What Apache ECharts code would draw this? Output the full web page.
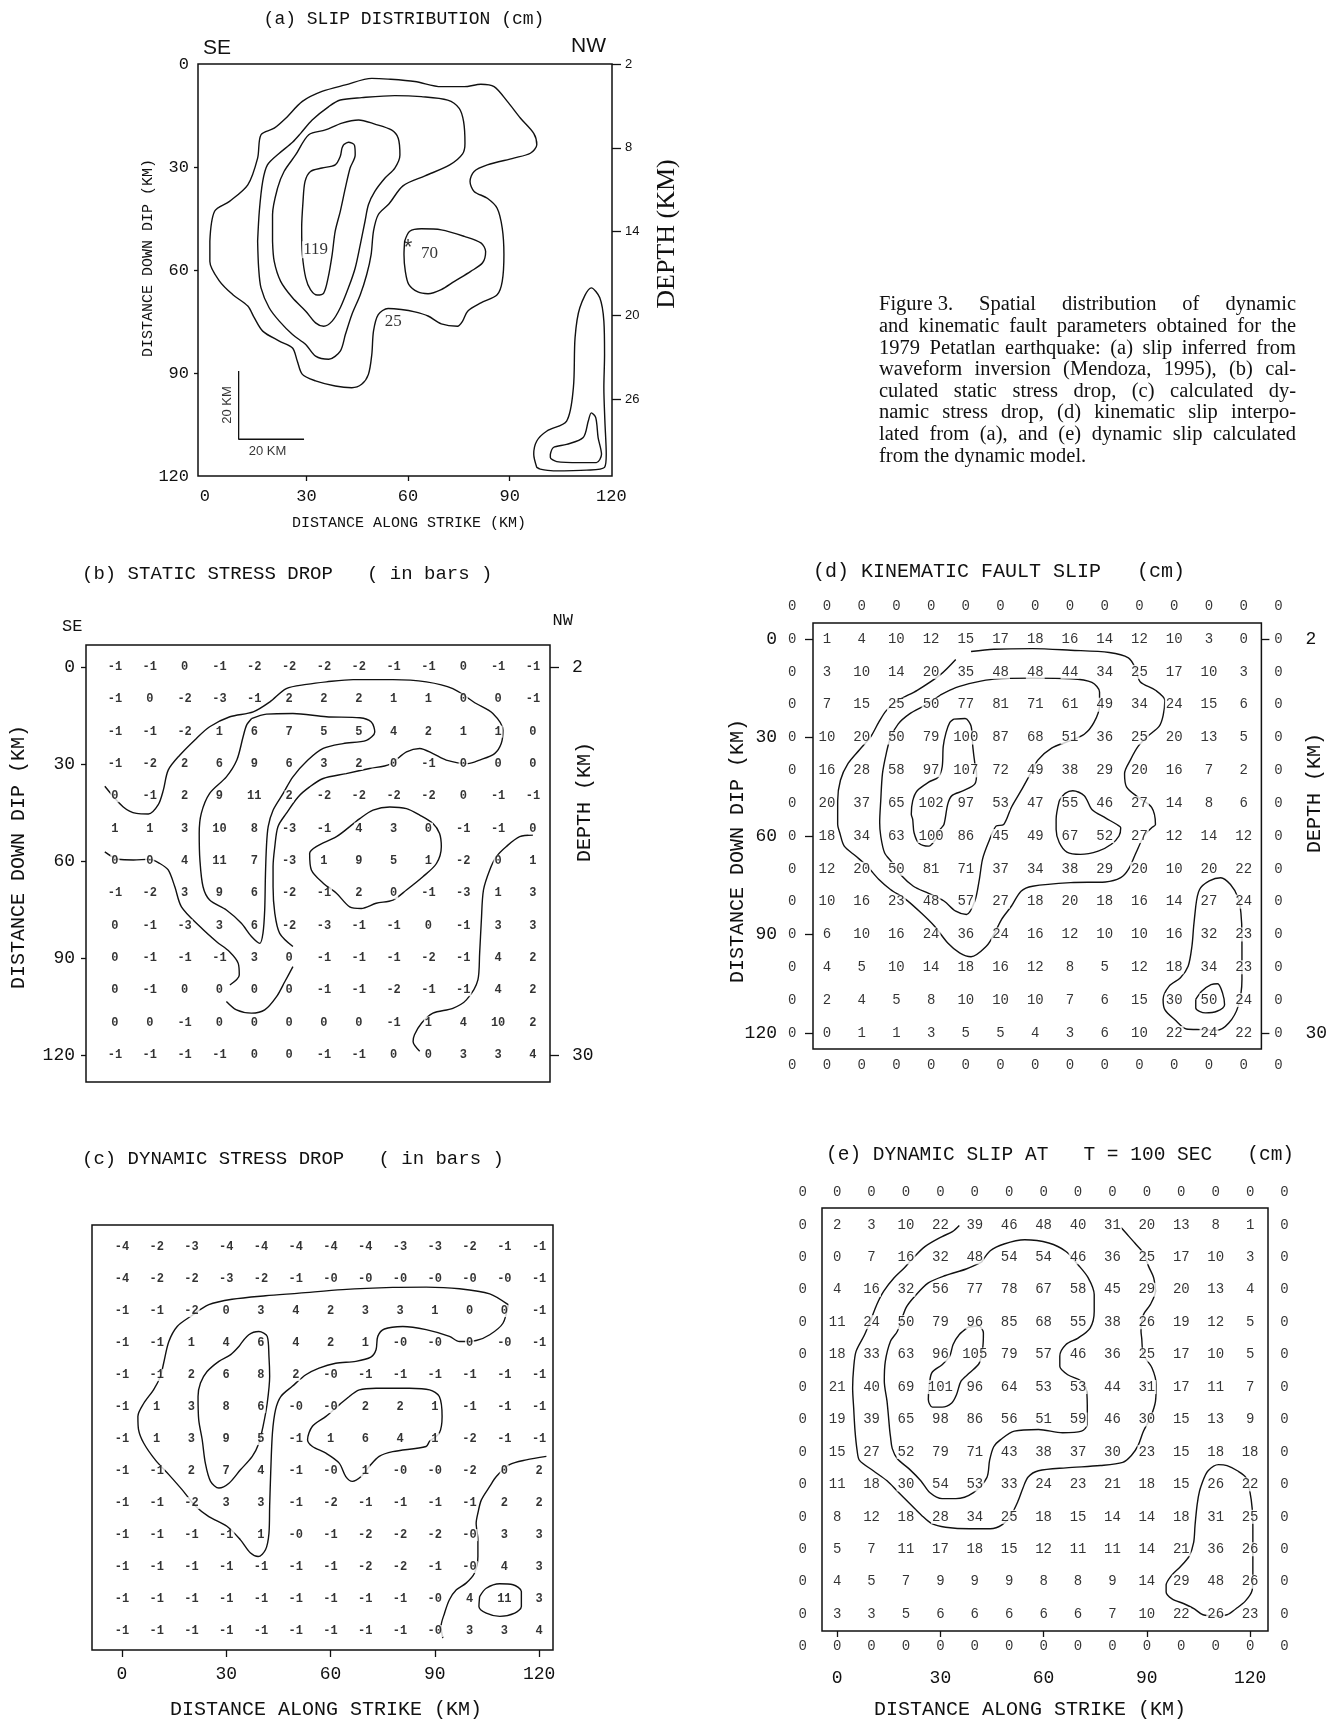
<!DOCTYPE html>
<html><head><meta charset="utf-8">
<script src="https://cdn.jsdelivr.net/npm/echarts@6/dist/echarts.min.js"></script>
<style>html,body{margin:0;padding:0;background:#fff}#c{width:1330px;height:1722px}</style>
</head><body><div id="c"></div>
<script>
// ---------- grid positions (km) ----------
const gridKm = [0,10,20,30,40,50,60,70,80,90,100,110,120];
const borderKm = [-10,0,10,20,30,40,50,60,70,80,90,100,110,120,130];
const strikeTicks = [0,30,60,90,120];
const dipTicks = [0,30,60,90,120];
const depthTicksA = [2,8,14,20,26];
const depthTickDipA = [0,24.4,48.8,73.2,97.6];
const depthTicksBD = ['2','30'];
const depthTickDipBD = [0,120];

// ---------- (b) static stress drop (bars) ----------
const staticStressDrop = [
[-1,-1,0,-1,-2,-2,-2,-2,-1,-1,0,-1,-1],
[-1,0,-2,-3,-1,2,2,2,1,1,0,0,-1],
[-1,-1,-2,1,6,7,5,5,4,2,1,1,0],
[-1,-2,2,6,9,6,3,2,0,-1,0,0,0],
[0,-1,2,9,11,2,-2,-2,-2,-2,0,-1,-1],
[1,1,3,10,8,-3,-1,4,3,0,-1,-1,0],
[0,0,4,11,7,-3,1,9,5,1,-2,0,1],
[-1,-2,3,9,6,-2,-1,2,0,-1,-3,1,3],
[0,-1,-3,3,6,-2,-3,-1,-1,0,-1,3,3],
[0,-1,-1,-1,3,0,-1,-1,-1,-2,-1,4,2],
[0,-1,0,0,0,0,-1,-1,-2,-1,-1,4,2],
[0,0,-1,0,0,0,0,0,-1,1,4,10,2],
[-1,-1,-1,-1,0,0,-1,-1,0,0,3,3,4]];

// ---------- (c) dynamic stress drop (bars) ----------
const dynamicStressDrop = [
["-4","-2","-3","-4","-4","-4","-4","-4","-3","-3","-2","-1","-1"],
["-4","-2","-2","-3","-2","-1","-0","-0","-0","-0","-0","-0","-1"],
["-1","-1","-2","0","3","4","2","3","3","1","0","0","-1"],
["-1","-1","1","4","6","4","2","1","-0","-0","0","-0","-1"],
["-1","-1","2","6","8","2","-0","-1","-1","-1","-1","-1","-1"],
["-1","1","3","8","6","-0","-0","2","2","1","-1","-1","-1"],
["-1","1","3","9","5","-1","1","6","4","1","-2","-1","-1"],
["-1","-1","2","7","4","-1","-0","1","-0","-0","-2","0","2"],
["-1","-1","-2","3","3","-1","-2","-1","-1","-1","-1","2","2"],
["-1","-1","-1","-1","1","-0","-1","-2","-2","-2","-0","3","3"],
["-1","-1","-1","-1","-1","-1","-1","-2","-2","-1","-0","4","3"],
["-1","-1","-1","-1","-1","-1","-1","-1","-1","-0","4","11","3"],
["-1","-1","-1","-1","-1","-1","-1","-1","-1","-0","3","3","4"]];

// ---------- (d) kinematic fault slip (cm), with zero border ----------
const kinematicSlip = [
[0,0,0,0,0,0,0,0,0,0,0,0,0,0,0],
[0,1,4,10,12,15,17,18,16,14,12,10,3,0,0],
[0,3,10,14,20,35,48,48,44,34,25,17,10,3,0],
[0,7,15,25,50,77,81,71,61,49,34,24,15,6,0],
[0,10,20,50,79,100,87,68,51,36,25,20,13,5,0],
[0,16,28,58,97,107,72,49,38,29,20,16,7,2,0],
[0,20,37,65,102,97,53,47,55,46,27,14,8,6,0],
[0,18,34,63,100,86,45,49,67,52,27,12,14,12,0],
[0,12,20,50,81,71,37,34,38,29,20,10,20,22,0],
[0,10,16,23,48,57,27,18,20,18,16,14,27,24,0],
[0,6,10,16,24,36,24,16,12,10,10,16,32,23,0],
[0,4,5,10,14,18,16,12,8,5,12,18,34,23,0],
[0,2,4,5,8,10,10,10,7,6,15,30,50,24,0],
[0,0,1,1,3,5,5,4,3,6,10,22,24,22,0],
[0,0,0,0,0,0,0,0,0,0,0,0,0,0,0]];

// ---------- (e) dynamic slip at T = 100 s (cm), with zero border ----------
const dynamicSlip = [
[0,0,0,0,0,0,0,0,0,0,0,0,0,0,0],
[0,2,3,10,22,39,46,48,40,31,20,13,8,1,0],
[0,0,7,16,32,48,54,54,46,36,25,17,10,3,0],
[0,4,16,32,56,77,78,67,58,45,29,20,13,4,0],
[0,11,24,50,79,96,85,68,55,38,26,19,12,5,0],
[0,18,33,63,96,105,79,57,46,36,25,17,10,5,0],
[0,21,40,69,101,96,64,53,53,44,31,17,11,7,0],
[0,19,39,65,98,86,56,51,59,46,30,15,13,9,0],
[0,15,27,52,79,71,43,38,37,30,23,15,18,18,0],
[0,11,18,30,54,53,33,24,23,21,18,15,26,22,0],
[0,8,12,18,28,34,25,18,15,14,14,18,31,25,0],
[0,5,7,11,17,18,15,12,11,11,14,21,36,26,0],
[0,4,5,7,9,9,9,8,8,9,14,29,48,26,0],
[0,3,3,5,6,6,6,6,6,7,10,22,26,23,0],
[0,0,0,0,0,0,0,0,0,0,0,0,0,0,0]];

// ---------- (a) slip contours, digitized [strike km, dip km] ----------
const slipContour25 = [[1.5,51.6],[2.9,42.9],[7.3,40.0],[12.7,35.2],[15.6,27.4],[16.6,20.6],[20.5,18.7],[23.9,15.8],[28.8,10.9],[34.6,8.0],[41.5,6.1],[49.3,4.2],[54.1,4.4],[62.0,5.1],[69.8,6.6],[76.6,6.6],[81.5,5.9],[85.4,6.6],[89.3,10.9],[93.2,15.8],[97.1,20.2],[98.0,23.5],[96.1,26.0],[91.2,27.4],[83.4,29.4],[79.5,31.3],[78.3,34.2],[79.5,37.1],[83.4,39.1],[86.3,42.0],[87.8,47.8],[88.3,55.5],[87.8,63.3],[86.3,67.2],[81.5,69.6],[77.6,72.0],[76.1,74.9],[74.6,76.4],[69.8,75.7],[65.9,73.4],[62.0,72.2],[58.0,71.5],[54.1,71.2],[51.2,73.0],[49.8,77.8],[49.3,84.6],[48.3,90.4],[46.3,93.3],[43.4,94.3],[38.5,93.8],[32.7,92.3],[28.8,90.4],[27.3,86.5],[25.9,82.7],[22.0,80.7],[17.1,77.8],[14.6,73.9],[12.7,70.5],[8.3,67.2],[4.4,63.3],[1.5,57.5]];
const slipContour2 = [[15.6,51.6],[16.1,42.9],[17.1,34.2],[18.5,29.4],[22.0,26.0],[25.9,22.8],[28.3,20.2],[31.7,16.3],[36.6,12.4],[40.0,10.5],[46.3,9.8],[56.1,9.2],[63.9,9.5],[71.7,10.5],[75.1,12.9],[76.4,16.8],[76.8,23.1],[76.1,26.2],[72.3,29.4],[65.0,32.6],[58.5,35.5],[54.4,40.7],[51.2,43.9],[49.8,48.7],[49.1,55.5],[47.8,61.3],[45.9,67.2],[43.4,73.0],[41.5,78.8],[40.0,83.6],[36.6,86.0],[32.7,85.1],[29.8,81.7],[25.9,78.8],[22.0,74.9],[19.0,71.0],[16.6,65.2],[15.9,59.4]];
const slipContour3 = [[20.0,51.6],[20.0,43.9],[21.5,36.1],[23.4,31.3],[26.8,26.5],[30.7,20.6],[35.6,19.2],[40.5,17.2],[45.4,16.3],[50.2,17.5],[55.1,19.2],[57.1,21.6],[57.6,26.5],[56.1,30.3],[53.2,33.2],[50.2,37.1],[48.3,41.0],[47.3,45.8],[45.9,52.6],[44.4,59.4],[42.4,65.2],[40.0,71.0],[37.6,74.9],[35.1,76.4],[32.7,75.4],[29.8,72.0],[25.9,68.1],[22.4,63.3],[20.5,57.5]];
const slipContour119 = [[41.0,23.5],[42.4,22.8],[44.2,23.7],[44.4,26.5],[42.9,30.3],[41.5,36.1],[40.0,42.9],[38.5,48.7],[37.6,55.5],[36.4,62.3],[35.1,66.7],[33.2,67.3],[31.2,65.7],[29.8,62.3],[28.8,55.5],[28.6,47.8],[29.0,40.0],[29.6,34.2],[31.2,31.3],[34.6,30.3],[38.5,29.4],[40.0,26.9],[40.5,24.5]];
const slipContour70 = [[59.0,51.6],[60.5,48.7],[63.9,48.0],[69.8,48.3],[76.6,50.2],[81.5,52.1],[82.9,54.6],[82.0,57.9],[78.5,60.4],[73.7,63.3],[69.8,65.7],[65.9,66.9],[62.9,66.4],[60.2,64.2],[59.2,60.4],[58.8,55.5]];
const slipContourNW1 = [[98.0,117.5],[97.1,113.7],[98.0,109.8],[101.0,106.9],[106.8,104.0],[108.8,94.3],[109.3,79.7],[110.7,71.0],[114.1,65.2],[116.6,68.1],[117.8,74.9],[118.0,84.6],[117.8,94.3],[118.1,104.0],[118.5,113.7],[118.0,117.5],[112.7,118.3],[102.9,118.5],[99.0,118.0]];
const slipContourNW2 = [[102.0,113.7],[102.9,111.7],[106.8,110.8],[111.7,108.8],[113.2,104.0],[114.1,101.6],[115.4,103.0],[116.1,108.8],[117.1,113.7],[115.6,116.1],[110.7,116.1],[103.9,115.8],[102.0,114.6]];
const slipLabels = [{name:'119',value:[32.7,54.1]},{name:'70',value:[66.3,55.3]},{name:'25',value:[55.6,75.1]}];
const hypocenter = [{name:'*',value:[60.0,53.6]}];
const scaleBar = [[10,89.4],[10,109.3],[29.3,109.3]];
const scaleBarLabels = [{name:'20 KM',value:[6.8,99.3],rot:90},{name:'20 KM',value:[18.5,112.9],rot:0}];

// ---------- (b) contours ----------
const staticContour1 = [[-2.9,36.9],[2.4,43.3],[6.2,45.3],[9.6,45.5],[12.4,42.7],[13.9,38.1],[15.3,31.9],[18.6,27.3],[23.4,22.1],[27.2,18.5],[33.0,15.4],[39.7,13.9],[44.5,10.8],[49.2,6.7],[55.0,5.4],[60.7,4.6],[68.4,3.9],[79.8,3.9],[89.4,4.6],[97.0,6.7],[103.7,11.3],[108.5,14.4],[111.4,19.6],[110.9,23.7],[109.0,26.8],[104.7,28.8],[101.3,29.9],[95.1,28.8],[91.3,26.8],[87.5,25.2],[83.7,26.3],[78.9,30.1],[73.1,31.4],[66.4,33.0],[59.8,34.5],[55.9,37.1],[52.6,40.2],[49.2,45.3],[46.8,49.4],[45.9,55.6],[45.4,61.8],[45.4,68.0],[45.9,76.2],[47.3,82.4],[51.1,86.5]];
const staticContour2 = [[39.2,16.0],[43.5,14.6],[51.1,14.4],[60.7,15.4],[70.3,15.7],[73.6,17.0],[74.6,20.1],[72.2,22.7],[65.5,23.7],[59.8,25.2],[55.4,28.8],[51.1,34.0],[48.3,39.1],[45.4,44.3],[44.0,49.4],[43.5,55.6],[43.2,64.9],[43.0,75.2],[42.5,82.4],[41.6,85.5],[39.2,83.4],[36.3,79.3],[32.0,75.2],[27.2,72.1],[25.3,68.0],[24.4,59.7],[24.2,51.5],[24.8,45.3],[27.2,39.1],[32.0,34.0],[35.0,28.8],[36.8,21.6],[37.8,18.0]];
const staticContour3 = [[67.4,49.4],[63.6,52.5],[57.8,55.6],[55.9,57.7],[56.4,62.8],[59.8,66.9],[63.6,70.0],[67.4,74.2],[70.7,74.7],[75.0,73.1],[79.8,72.1],[83.7,69.0],[88.4,64.9],[92.3,60.8],[93.7,55.6],[93.2,51.5],[91.3,48.4],[87.5,45.8],[83.7,43.8],[78.9,43.3],[74.1,44.3],[70.3,46.9]];
const staticContour4 = [[-2.9,57.2],[1.0,59.5],[5.3,59.7],[10.0,59.5],[12.9,60.8],[15.3,62.8],[17.2,68.0],[19.1,74.2],[24.4,80.3],[29.2,85.0],[32.9,88.1],[35.4,91.7],[35.7,95.3],[33.0,98.4]];
const staticContour5 = [[32.0,103.5],[34.9,106.1],[39.2,107.1],[43.0,106.1],[46.4,102.0],[48.8,97.3],[51.1,92.7]];
const staticContour6 = [[120.0,52.0],[116.2,52.5],[112.3,55.6],[109.5,58.7],[107.6,62.8],[105.8,69.0],[105.2,78.3],[104.7,88.6],[104.2,96.8],[100.9,103.0],[97.0,105.6],[91.3,107.1],[88.0,110.2],[86.0,113.8],[85.6,115.9],[87.5,118.9]];

// ---------- (c) contours ----------
const dynStressContour1 = [[111.1,18.0],[109.6,23.8],[105.8,27.4],[101.9,29.2],[97.1,29.5],[94.2,27.9],[87.5,25.8],[80.8,24.8],[75.5,25.6],[73.6,27.9],[73.1,32.1],[71.6,34.4],[67.3,35.7],[61.5,36.3],[56.7,37.8],[52.9,39.9],[49.0,43.5],[45.7,46.7],[44.2,50.8],[43.3,58.1],[42.8,70.6],[42.5,81.0],[42.3,89.4],[41.3,94.6],[39.2,96.7],[37.0,95.6],[34.1,91.5],[30.3,87.3],[25.0,84.2],[21.2,81.0],[17.3,75.8],[13.5,71.1],[9.6,66.5],[6.3,61.3],[4.8,57.1],[4.6,52.9],[6.3,48.8],[9.1,44.6],[11.1,40.4],[12.0,36.3],[13.5,29.5],[15.9,24.8],[19.7,21.7],[25.0,18.0],[31.7,16.3],[41.3,15.2],[51.0,14.4],[63.5,13.3],[77.9,12.6],[87.5,12.5],[97.1,13.0],[105.8,14.6]];
const dynStressContour2 = [[33.7,31.0],[36.5,27.4],[39.4,26.4],[41.8,27.9],[42.3,34.2],[42.5,40.4],[41.8,48.8],[40.6,56.0],[39.4,61.3],[37.5,65.4],[34.1,69.6],[30.8,73.8],[27.9,75.3],[25.5,73.2],[24.0,67.5],[23.1,60.2],[22.1,54.0],[21.9,46.7],[22.6,42.5],[24.5,38.9],[27.9,35.7],[31.3,33.6]];
const dynStressContour3 = [[65.4,46.7],[68.3,44.6],[73.1,44.1],[82.7,44.1],[88.5,44.6],[91.3,46.7],[92.1,52.9],[91.3,58.1],[88.5,60.7],[87.5,62.3],[77.9,63.9],[74.0,65.4],[71.2,68.5],[68.8,71.7],[66.3,73.2],[64.4,71.7],[62.5,67.5],[58.7,64.4],[54.8,62.3],[53.4,60.2],[54.8,56.0],[58.7,52.9],[62.5,49.3]];
const dynStressContour4 = [[122.1,65.4],[116.3,66.5],[111.5,68.0],[107.7,71.7],[105.8,74.8],[103.4,79.0],[102.4,83.1],[101.9,86.3],[102.4,91.5],[102.4,96.7],[101.4,101.9],[99.0,105.0],[96.2,107.1],[94.2,110.2],[92.8,114.4],[91.8,118.5],[92.3,122.2]];
const dynStressContour5 = [[102.9,109.2],[104.8,106.6],[108.7,105.2],[112.5,105.5],[114.9,107.6],[114.9,112.3],[113.0,114.4],[108.7,115.4],[104.8,114.4],[102.7,112.3]];

// ---------- (d) contours ----------
const kinContour1 = [[41.5,3.8],[48.1,3.1],[59.2,2.9],[70.2,3.4],[81.3,4.1],[86.8,5.7],[88.8,8.8],[90.2,13.0],[94.6,15.6],[97.3,18.7],[96.8,23.3],[95.7,26.5],[92.4,29.6],[89.6,32.7],[87.4,36.8],[85.7,41.0],[86.3,45.1],[89.6,48.2],[93.5,51.3],[94.6,56.5],[93.5,57.5],[91.3,60.0],[89.0,65.1],[86.8,70.2],[84.6,72.7],[80.2,74.0],[70.2,74.2],[59.2,75.3],[55.9,76.8],[53.1,81.4],[50.3,85.4],[48.1,90.0],[45.9,93.6],[41.5,96.8],[38.2,95.6],[34.8,92.6],[31.0,87.5],[27.1,83.4],[22.7,79.3],[18.3,76.3],[14.9,73.2],[11.6,69.2],[8.3,66.1],[5.0,63.1],[3.7,59.0],[3.1,56.5],[3.1,49.3],[3.9,43.0],[6.1,37.9],[9.4,33.7],[12.7,29.6],[14.9,25.4],[17.1,21.8],[20.5,18.7],[26.0,15.6],[32.6,10.9],[37.1,6.2]];
const kinContour2 = [[32.6,17.1],[37.1,14.8],[42.6,13.2],[48.1,12.2],[59.2,11.9],[70.2,12.1],[76.3,13.2],[78.5,16.1],[78.5,20.2],[76.9,25.4],[74.1,29.0],[69.7,31.1],[64.7,33.2],[60.8,36.8],[58.6,41.0],[55.9,46.2],[53.1,51.3],[50.9,56.5],[48.7,57.0],[46.5,62.0],[44.8,67.1],[43.9,73.2],[42.6,79.8],[40.2,83.9],[37.1,82.9],[33.7,79.8],[29.3,77.5],[24.9,75.3],[21.6,72.2],[18.8,68.1],[16.6,65.1],[15.5,60.0],[15.2,55.9],[15.5,49.3],[16.0,41.0],[17.1,34.8],[18.3,30.1],[20.5,25.9],[23.8,22.8],[28.2,20.2]];
const kinContour3 = [[36.5,24.4],[39.8,24.2],[41.5,26.5],[42.0,32.7],[42.6,37.9],[43.1,41.0],[42.6,44.1],[39.3,46.2],[36.0,47.7],[34.8,50.3],[33.7,56.5],[32.6,58.0],[31.3,61.0],[29.3,63.1],[26.5,62.2],[25.1,59.0],[24.7,54.9],[24.3,53.4],[24.7,49.3],[26.0,46.2],[29.3,43.6],[32.1,42.0],[33.2,38.9],[33.5,32.7],[34.3,28.5],[35.4,25.4]];
const kinContour4 = [[66.9,49.3],[68.6,47.0],[70.8,46.2],[74.1,47.7],[76.3,51.9],[80.2,54.5],[83.5,56.5],[84.6,57.5],[84.1,60.0],[81.9,62.5],[78.1,64.6],[73.0,65.6],[69.1,64.9],[66.9,62.0],[66.0,58.0],[66.0,54.9]];
const kinContour5 = [[106.2,81.4],[107.3,76.3],[110.1,73.7],[113.4,72.7],[116.2,74.8],[118.4,78.8],[119.2,83.4],[119.5,90.5],[119.5,97.6],[119.5,103.7],[118.4,111.9],[115.7,117.0],[112.3,119.2],[107.9,119.0],[103.5,118.8],[100.2,116.0],[97.3,112.9],[96.8,109.8],[98.5,105.8],[101.8,103.2],[104.0,99.7],[105.1,93.6],[105.6,87.5]];
const kinContour6 = [[106.2,109.8],[107.9,107.3],[110.6,105.3],[112.5,105.0],[113.9,107.8],[114.5,111.4],[112.3,113.4],[109.0,113.9],[106.2,112.4]];

// ---------- (e) contours ----------
const dynSlipContour1 = [[35.5,0.2],[33.5,2.1],[30.5,3.6],[25.5,6.7],[22.0,10.3],[19.5,13.3],[16.5,16.4],[13.5,20.5],[11.5,24.6],[10.0,28.7],[8.0,33.8],[5.5,39.0],[4.8,44.1],[4.5,50.3],[4.8,56.4],[5.2,63.6],[5.8,69.5],[6.5,72.6],[10.5,75.8],[14.5,78.9],[17.5,82.1],[21.0,85.8],[24.5,89.5],[27.5,92.1],[31.5,93.2],[38.5,93.7],[44.5,93.7],[48.0,92.4],[50.5,89.5],[52.5,85.3],[54.0,81.1],[55.5,77.7],[58.5,75.8],[66.5,74.9],[76.5,74.2],[83.0,73.2],[85.5,71.1],[87.5,67.9],[89.0,63.6],[91.0,59.5],[92.5,54.4],[92.7,49.2],[91.5,44.1],[89.0,40.0],[88.5,34.9],[88.3,32.8],[89.0,27.7],[91.0,24.6],[92.5,20.5],[92.0,16.4],[90.5,12.8],[89.0,8.7],[86.5,5.6],[84.0,2.6],[82.5,0.8]];
const dynSlipContour2 = [[42.0,11.5],[44.5,8.0],[48.5,5.9],[54.5,4.6],[61.5,5.6],[66.5,8.2],[70.0,12.3],[73.0,16.4],[74.7,21.5],[74.7,26.7],[73.5,31.8],[70.0,34.9],[66.5,36.9],[64.7,40.5],[64.7,43.6],[67.0,46.2],[71.0,48.2],[72.5,51.3],[72.7,57.4],[72.7,61.5],[71.0,63.6],[65.5,64.1],[58.5,63.1],[51.5,63.6],[47.5,66.2],[45.5,68.4],[44.3,72.6],[43.5,77.9],[39.5,82.6],[34.5,84.4],[30.5,84.4],[27.0,82.6],[24.3,78.9],[21.0,75.3],[17.5,72.1],[16.0,68.9],[15.5,65.3],[15.3,63.6],[14.5,54.4],[13.7,48.2],[14.0,42.1],[15.5,35.9],[17.5,32.8],[20.0,25.6],[22.5,22.1],[26.5,17.9],[31.5,15.6],[37.5,13.6]];
const dynSlipContour3 = [[38.0,31.6],[41.0,31.1],[42.5,33.3],[42.3,37.9],[41.3,42.6],[38.5,45.6],[36.0,48.2],[34.7,52.3],[33.3,54.9],[30.5,56.2],[27.7,56.2],[26.5,53.8],[26.7,50.3],[27.5,45.6],[30.5,43.1],[32.7,40.5],[33.7,36.9],[35.5,33.8]];
const dynSlipContour4 = [[106.3,78.9],[107.8,75.8],[110.8,73.9],[113.3,74.2],[116.3,75.8],[118.8,77.9],[120.0,82.6],[120.6,87.4],[120.8,92.6],[120.8,97.9],[120.8,103.2],[120.8,108.4],[120.6,112.6],[118.6,116.0],[115.8,118.4],[113.3,120.2],[109.8,120.5],[106.3,120.2],[103.8,118.4],[100.8,116.8],[97.3,115.3],[95.6,113.2],[95.6,111.1],[97.3,107.9],[99.8,105.3],[102.3,102.1],[103.6,97.9],[104.0,92.6],[104.6,86.3],[105.3,82.1]];

// ---------- caption ----------
const captionLines = [
 ['Figure\u00a03.','Spatial','distribution','of','dynamic'],
 ['and','kinematic','fault','parameters','obtained','for','the'],
 ['1979','Petatlan','earthquake:','(a)','slip','inferred','from'],
 ['waveform','inversion','(Mendoza,','1995),','(b)','cal-'],
 ['culated','static','stress','drop,','(c)','calculated','dy-'],
 ['namic','stress','drop,','(d)','kinematic','slip','interpo-'],
 ['lated','from','(a),','and','(e)','dynamic','slip','calculated'],
 ['from','the','dynamic','model.']];

// =================================================================
const MONO = "'Liberation Mono', 'DejaVu Sans Mono', monospace";
const SANS = "'Liberation Sans', Arial, sans-serif";
const SERIF = "'Liberation Serif', 'Times New Roman', serif";
const INK = '#111';

function close(p){ return p.concat([p[0]]); }
function gridLabels(m, xs, ys){
  const out=[]; m.forEach((row,i)=>row.forEach((v,j)=>out.push({name:String(v), value:[xs[j], ys[i]]}))); return out;
}
function contour(pts, xi, yi, closed){
  return {type:'line', xAxisIndex:xi, yAxisIndex:yi, data: closed?close(pts):pts, symbol:'none', showSymbol:false,
    smooth:0.3, lineStyle:{color:INK, width:1.4}, silent:true, z:2, animation:false};
}
function labelSeries(data, xi, yi, size, fam, weight, extraLabel){
  return {type:'scatter', xAxisIndex:xi, yAxisIndex:yi, data, symbolSize:1,
    itemStyle:{color:'rgba(0,0,0,0)'}, clip:false, silent:true, z:5, animation:false,
    label:Object.assign({show:true, position:'inside', formatter:p=>p.name, fontFamily:fam, fontSize:size,
      fontWeight:weight||'normal', color:'#000', backgroundColor:'#fff', padding:[0,1]}, extraLabel||{})};
}
function hiddenAxis(gi, min, max, inverse){
  return {type:'value', gridIndex:gi, min, max, inverse:!!inverse, axisLine:{show:false, onZero:false}, axisTick:{show:false},
    axisLabel:{show:false}, splitLine:{show:false}};
}
function tickAxis(gi, min, max, inverse, pos, ticks, labels, fmt, tickLen, margin, size, fam){
  return {type:'value', gridIndex:gi, min, max, inverse:!!inverse, position:pos,
    axisLine:{show:false, onZero:false}, splitLine:{show:false},
    axisTick:{show:true, customValues:ticks, length:tickLen, lineStyle:{color:INK, width:1.3}},
    axisLabel:{show:true, customValues:labels, formatter:fmt, margin, fontSize:size, fontFamily:fam, color:INK}};
}
const boxStyle = {show:true, borderColor:INK, borderWidth:1.5, backgroundColor:'rgba(0,0,0,0)'};

const grids = [
  Object.assign({left:198, top:64, width:414, height:412}, boxStyle),   // a
  Object.assign({left:86, top:645, width:464, height:437}, boxStyle),   // b
  Object.assign({left:92, top:1225, width:461, height:425}, boxStyle),  // c
  Object.assign({left:813, top:623, width:452, height:426}, boxStyle),  // d
  Object.assign({left:822, top:1208, width:446, height:423}, boxStyle)  // e
];

const depthFmtA = v => { let bi=0; depthTickDipA.forEach((d,i)=>{ if(Math.abs(d-v)<Math.abs(depthTickDipA[bi]-v)) bi=i; }); return String(depthTicksA[bi]); };
const depthFmtBD = v => depthTicksBD[Math.abs(v-depthTickDipBD[0]) < Math.abs(v-depthTickDipBD[1]) ? 0 : 1];

const xAxes = [
  tickAxis(0, -2, 120.2, false, 'bottom', [30,60,90], strikeTicks, null, 5, 12, 17, MONO),
  hiddenAxis(1, -8.3, 124.9),
  tickAxis(2, -8.6, 124.0, false, 'bottom', strikeTicks, strikeTicks, null, 7, 15, 18, MONO),
  hiddenAxis(3, -4.0, 125.1),
  tickAxis(4, -4.4, 125.2, false, 'bottom', strikeTicks, strikeTicks, null, 6, 38, 18, MONO)
];
const yAxes = [
  tickAxis(0, 0, 120, true, 'left', [30,60,90], dipTicks, null, 4, 9, 17, MONO),
  tickAxis(0, 0, 120, true, 'right', depthTickDipA, depthTickDipA, depthFmtA, 9, 13, 13, SANS),
  tickAxis(1, -6.8, 128.4, true, 'left', dipTicks, dipTicks, null, 5, 11, 18, MONO),
  tickAxis(1, -6.8, 128.4, true, 'right', depthTickDipBD, depthTickDipBD, depthFmtBD, 9, 22, 18, MONO),
  hiddenAxis(2, -6.9, 125.9, true),
  tickAxis(3, -4.9, 124.9, true, 'left', dipTicks, dipTicks, null, 8, 36, 18, MONO),
  tickAxis(3, -4.9, 124.9, true, 'right', depthTickDipBD, depthTickDipBD, depthFmtBD, 8, 44, 18, MONO),
  hiddenAxis(4, -5.2, 125.2, true)
];

const series = [];
// (a)
[[slipContour25,true],[slipContour2,true],[slipContour3,true],[slipContour119,true],[slipContour70,true],[slipContourNW1,true],[slipContourNW2,true]]
  .forEach(([c,cl])=>series.push(contour(c,0,0,cl)));
series.push({type:'line', xAxisIndex:0, yAxisIndex:0, data:scaleBar, symbol:'none', lineStyle:{color:INK,width:1.3}, silent:true, z:2, animation:false});
series.push(labelSeries(slipLabels,0,0,17,SERIF));
series.push(labelSeries(hypocenter,0,0,22,SANS,'normal',{backgroundColor:'transparent'}));
scaleBarLabels.forEach(l=>series.push(labelSeries([l],0,0,13,SANS,'normal',{rotate:l.rot, backgroundColor:'transparent'})));
// (b)
[[staticContour1,false],[staticContour2,true],[staticContour3,true],[staticContour4,false],[staticContour5,false],[staticContour6,false]]
  .forEach(([c,cl])=>series.push(contour(c,1,2,cl)));
series.push(labelSeries(gridLabels(staticStressDrop,gridKm,gridKm),1,2,12,MONO,'bold'));
// (c)
[[dynStressContour1,true],[dynStressContour2,true],[dynStressContour3,true],[dynStressContour4,false],[dynStressContour5,true]]
  .forEach(([c,cl])=>series.push(contour(c,2,4,cl)));
series.push(labelSeries(gridLabels(dynamicStressDrop,gridKm,gridKm),2,4,12,MONO,'bold'));
// (d)
[[kinContour1,false],[kinContour2,true],[kinContour3,true],[kinContour4,true],[kinContour5,true],[kinContour6,true]]
  .forEach(([c,cl])=>series.push(contour(c,3,5,cl)));
series.push(labelSeries(gridLabels(kinematicSlip,borderKm,borderKm),3,5,14,MONO));
// (e)
[[dynSlipContour1,false],[dynSlipContour2,true],[dynSlipContour3,true],[dynSlipContour4,true]]
  .forEach(([c,cl])=>series.push(contour(c,4,7,cl)));
series.push(labelSeries(gridLabels(dynamicSlip,borderKm,borderKm),4,7,14,MONO));

// ---------- text graphics ----------
function txt(text, x, y, size, fam, align, rot){
  return {type:'text', x, y, rotation: rot||0, silent:true,
    style:{text, fontSize:size, fontFamily:fam, fill:INK, textAlign:align||'center', textVerticalAlign:'middle'}};
}
const R = Math.PI/2;
const graphics = [
  txt('(a) SLIP DISTRIBUTION (cm)', 404, 19, 18, MONO),
  txt('SE', 203, 48, 21, SANS, 'left'),
  txt('NW', 606, 46, 21, SANS, 'right'),
  txt('DISTANCE DOWN DIP (KM)', 148, 258, 15, MONO, 'center', R),
  txt('DISTANCE ALONG STRIKE (KM)', 409, 523, 15, MONO),
  txt('DEPTH (KM)', 667, 234, 26, SERIF, 'center', R),

  txt('(b) STATIC STRESS DROP   ( in bars )', 82, 574, 19, MONO, 'left'),
  txt('SE', 62, 626, 17, MONO, 'left'),
  txt('NW', 573, 620, 17, MONO, 'right'),
  txt('DISTANCE DOWN DIP (KM)', 19, 857, 20, MONO, 'center', R),
  txt('DEPTH (KM)', 585, 802, 20, MONO, 'center', R),

  txt('(c) DYNAMIC STRESS DROP   ( in bars )', 82, 1159, 19, MONO, 'left'),
  txt('DISTANCE ALONG STRIKE (KM)', 326, 1710, 20, MONO),

  txt('(d) KINEMATIC FAULT SLIP   (cm)', 813, 572, 20, MONO, 'left'),
  txt('DISTANCE DOWN DIP (KM)', 738, 851, 20, MONO, 'center', R),
  txt('DEPTH (KM)', 1315, 793, 20, MONO, 'center', R),

  txt('(e) DYNAMIC SLIP AT   T = 100 SEC   (cm)', 826, 1155, 19.5, MONO, 'left'),
  txt('DISTANCE ALONG STRIKE (KM)', 1030, 1710, 20, MONO)
];

// caption: justified lines
(function(){
  const left = 879, right = 1296, W = right-left, y0 = 305, lh = 21.6;
  const ctx = document.createElement('canvas').getContext('2d');
  let size = 20.5;
  const widthOf = (s, sz) => { ctx.font = sz + "px 'Liberation Serif'"; return ctx.measureText(s).width; };
  captionLines.forEach(ws=>{
    const nat = widthOf(ws.join(' '), size);
    if (nat > W) size = Math.min(size, size*W/nat);
  });
  captionLines.forEach((ws,li)=>{
    const widths = ws.map(w=>widthOf(w,size));
    const sum = widths.reduce((a,b)=>a+b,0);
    const last = li === captionLines.length-1;
    const gap = last ? widthOf(' ',size) : (W-sum)/(ws.length-1);
    let x = left;
    ws.forEach((w,i)=>{
      graphics.push(txt(w.replace('\u00a0',' '), x, y0+li*lh, size, SERIF, 'left'));
      x += widths[i] + gap;
    });
  });
})();

const chart = echarts.init(document.getElementById('c'), null, {renderer:'canvas'});
chart.setOption({
  animation:false,
  backgroundColor:'#fff',
  grid: grids,
  xAxis: xAxes,
  yAxis: yAxes,
  series,
  graphic: graphics
});
</script></body></html>
